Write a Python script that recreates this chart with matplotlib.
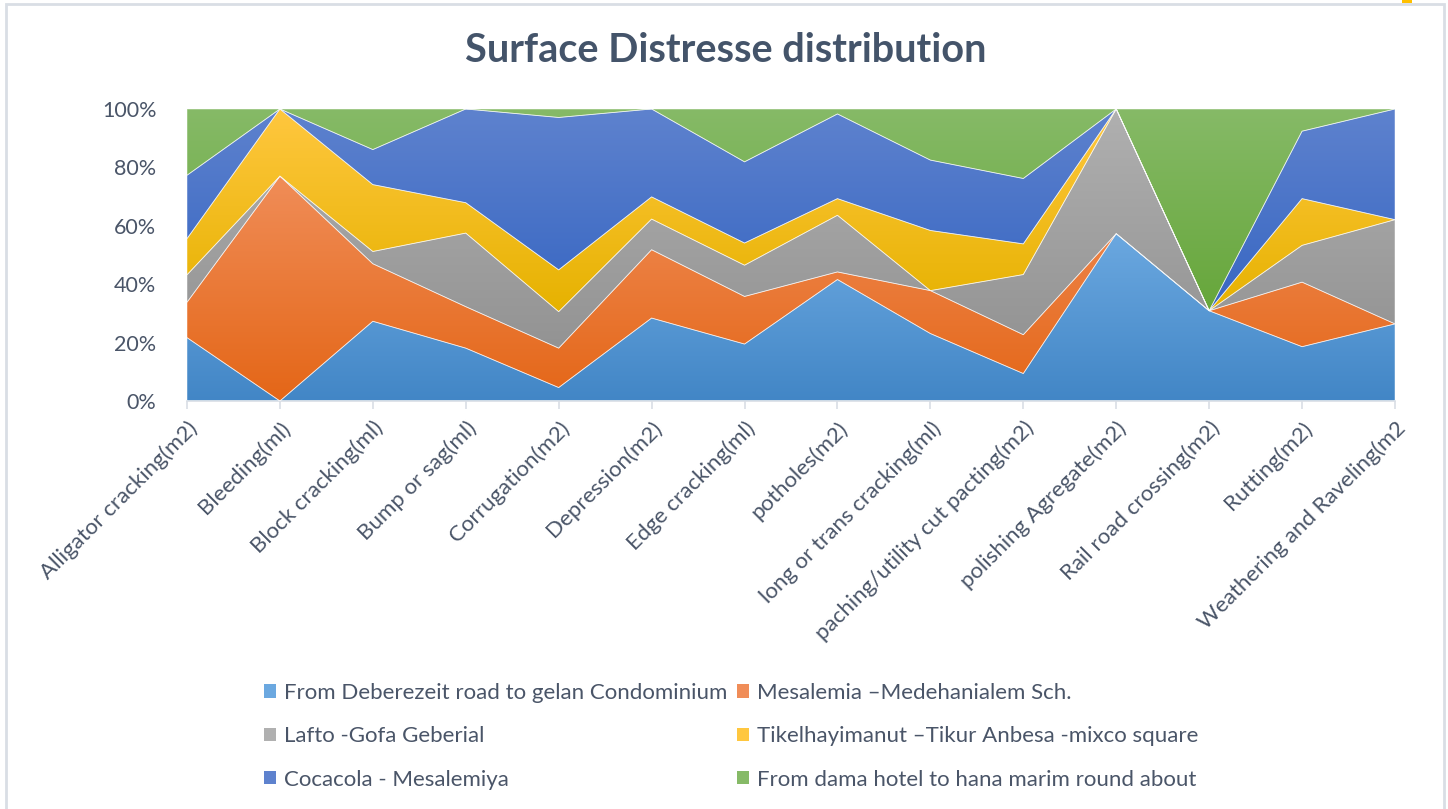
import numpy as np
import matplotlib.pyplot as plt
from matplotlib.colors import LinearSegmentedColormap
from matplotlib.patches import Patch, Rectangle

plt.rcParams['font.family'] = ['Lato', 'DejaVu Sans']

categories = [
    "Alligator cracking(m2)", "Bleeding(ml)", "Block cracking(ml)", "Bump or sag(ml)",
    "Corrugation(m2)", "Depression(m2)", "Edge cracking(ml)", "potholes(m2)",
    "long or trans cracking(ml)", "paching/utility cut pacting(m2)",
    "polishing Agregate(m2)", "Rail road crossing(m2)", "Rutting(m2)",
    "Weathering and Raveling(m2",
]

series_names = [
    "From Deberezeit road to gelan Condominium",
    "Mesalemia \u2013Medehanialem Sch.",
    "Lafto -Gofa Geberial",
    "Tikelhayimanut \u2013Tikur Anbesa -mixco square",
    "Cocacola - Mesalemiya",
    "From dama hotel to hana marim round about",
]

# share of each road section per distress type (%)
deberezeit = [21.7, 0.0, 27.3, 18.1, 4.6, 28.4, 19.5, 41.6, 23.1, 9.4, 57.3, 30.9, 18.6, 26.4]
mesalemia = [12.1, 77.0, 19.7, 14.2, 13.5, 23.4, 16.3, 2.6, 14.7, 13.3, 0.0, 0.0, 22.1, 0.0]
lafto = [9.4, 0.0, 4.2, 25.2, 12.5, 10.5, 10.7, 19.4, 0.0, 20.6, 42.7, 0.0, 12.6, 35.7]
tikelhayimanut = [12.4, 23.0, 22.9, 10.4, 14.3, 7.6, 7.6, 5.7, 20.6, 10.5, 0.0, 0.0, 16.0, 0.0]
cocacola = [21.7, 0.0, 12.0, 32.1, 52.2, 30.1, 27.8, 29.0, 24.1, 22.4, 0.0, 0.0, 23.1, 37.9]
dama = [22.7, 0.0, 13.9, 0.0, 2.9, 0.0, 18.1, 1.7, 17.5, 23.8, 0.0, 69.1, 7.6, 0.0]

# (bottom, top) colours of the vertical gradient for each series
gradients = [
    ("#4286C6", "#6BA8E0"),
    ("#E46617", "#F08D58"),
    ("#939393", "#B0B0B0"),
    ("#E6B200", "#FFC73F"),
    ("#3766C2", "#5E82CE"),
    ("#66A63A", "#86BA67"),
]

W, H = 1448, 809
fig = plt.figure(figsize=(W / 100, H / 100), dpi=100)
ax = fig.add_axes([187 / W, 1 - 401 / H, (1395 - 187) / W, (401 - 109) / H])

data = np.array([deberezeit, mesalemia, lafto, tikelhayimanut, cocacola, dama], dtype=float)
pct = data / data.sum(axis=0) * 100
cum = np.vstack([np.zeros(pct.shape[1]), np.cumsum(pct, axis=0)])
x = np.arange(len(categories))

grad = np.linspace(0, 1, 256).reshape(-1, 1)
for i in range(len(series_names)):
    lo, hi = cum[i], cum[i + 1]
    poly = ax.fill_between(x, lo, hi, facecolor="none", edgecolor=(1, 1, 1, 0.55),
                           linewidth=0.6, zorder=3)
    cmap = LinearSegmentedColormap.from_list(f"g{i}", list(gradients[i]))
    ymin, ymax = lo.min(), hi.max()
    if ymax - ymin < 1e-6:
        ymax = ymin + 1
    im = ax.imshow(grad, extent=[x[0], x[-1], ymin, ymax], origin="lower",
                   aspect="auto", cmap=cmap, interpolation="bilinear", zorder=2)
    im.set_clip_path(poly.get_paths()[0], ax.transData)

ax.set_xlim(x[0], x[-1])
ax.set_ylim(0, 100)
ax.set_yticks(np.arange(0, 101, 20))
ax.set_yticklabels([f"{v}%" for v in range(0, 101, 20)])
ax.set_xticks(x)
ax.set_xticklabels(categories, rotation=45, ha="right", va="top", rotation_mode="anchor")

text_color = "#4A5568"
for s in ["top", "right", "left"]:
    ax.spines[s].set_visible(False)
ax.spines["bottom"].set_color("#D9DEE5")
ax.spines["bottom"].set_linewidth(1.2)
ax.tick_params(axis="y", length=0, pad=22, labelsize=15.5, labelcolor=text_color)
ax.tick_params(axis="x", length=6, width=1.2, color="#D9DEE5", pad=6,
               labelsize=16, labelcolor=text_color)

fig.text(726 / W, 1 - 50 / H, "Surface Distresse distribution", ha="center", va="center",
         fontsize=28.5, fontweight="bold", color="#44546A")

handles = [Patch(facecolor=gradients[i][1], edgecolor="none") for i in range(len(series_names))]
order = [0, 2, 4, 1, 3, 5]
fig.legend([handles[k] for k in order], [series_names[k] for k in order],
           ncol=2, loc="upper left", bbox_to_anchor=(255 / W, 1 - 674 / H),
           frameon=False, fontsize=16, labelcolor=text_color,
           handlelength=0.55, handleheight=0.55, handletextpad=0.35,
           columnspacing=0.45, labelspacing=1.05, borderaxespad=0)

# chart frame
fig.add_artist(Rectangle((6 / W, -0.02), (1444 - 6) / W, 1.02 - 4 / H,
                         transform=fig.transFigure, fill=False,
                         edgecolor="#D9DEE5", linewidth=2))
fig.add_artist(Rectangle((1402 / W, 1 - 3 / H), 10 / W, 3 / H, transform=fig.transFigure,
                         facecolor="#FFC000", edgecolor="none"))

fig.savefig("out.png", dpi=100, facecolor="white")
